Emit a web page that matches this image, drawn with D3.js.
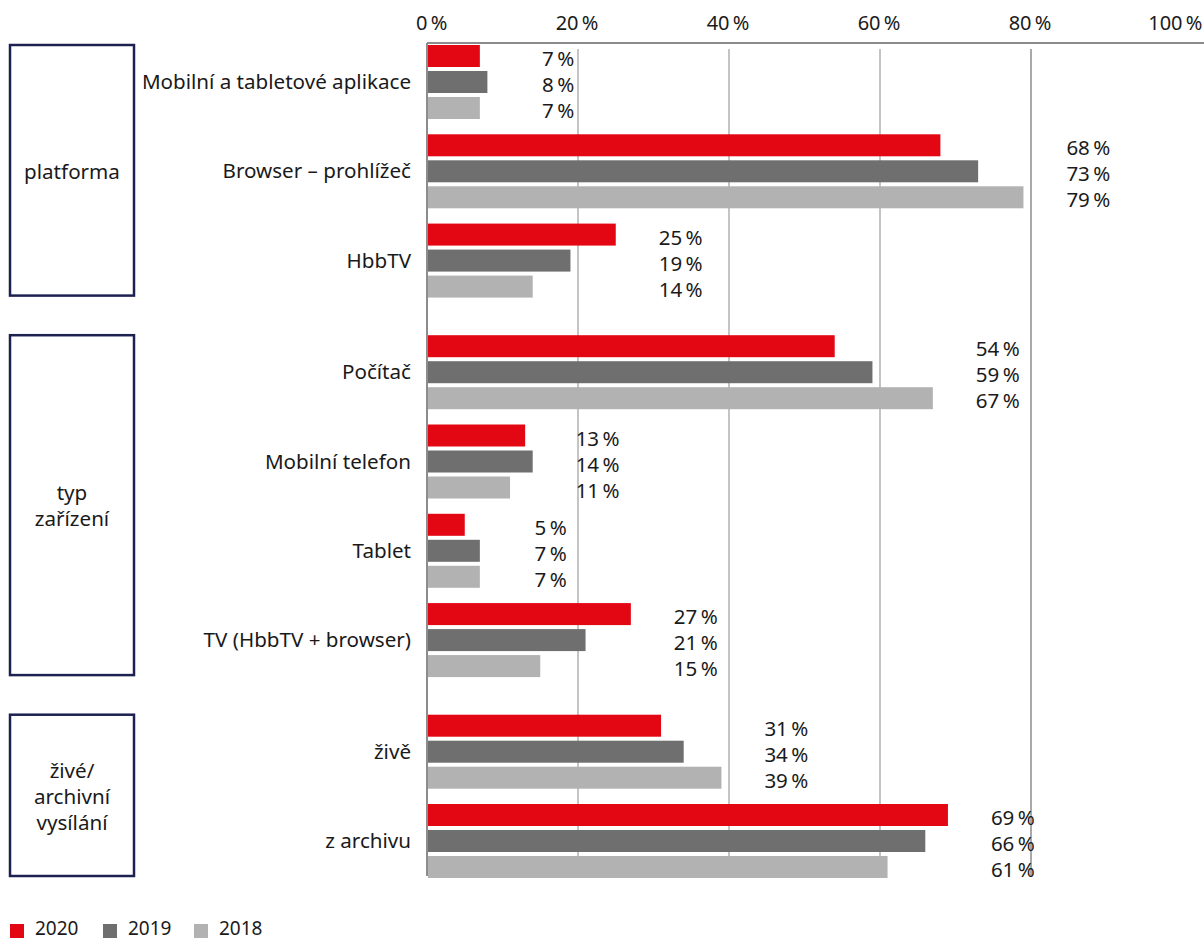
<!DOCTYPE html>
<html><head><meta charset="utf-8">
<script src="https://cdn.jsdelivr.net/npm/d3@7"></script>
<style>
html,body{margin:0;padding:0;background:#fff;}
text{font-family:"Noto Sans","Open Sans",sans-serif;fill:#1a1a1a;}
</style></head>
<body>
<svg id="chart" width="1204" height="940"></svg>
<script>
const categories = ["Mobilní a tabletové aplikace","Browser – prohlížeč","HbbTV","Počítač","Mobilní telefon","Tablet","TV (HbbTV + browser)","živě","z archivu"];
const categorySection = [0,0,0,1,1,1,1,2,2];
const sections = [["platforma"],["typ","zařízení"],["živé/","archivní","vysílání"]];
const years = ["2020","2019","2018"];
const values2020 = [7,68,25,54,13,5,27,31,69];
const values2019 = [8,73,19,59,14,7,21,34,66];
const values2018 = [7,79,14,67,11,7,15,39,61];
const ticks = [0,20,40,60,80,100];
const colors = {"2020":"#e30613","2019":"#6f6f6f","2018":"#b2b2b2"};

const series = [values2020, values2019, values2018];
const svg = d3.select("#chart");
const W = 1204, H = 940;

const x = d3.scaleLinear().domain([0,100]).range([427,1182]);
const sectionGap = 0.25;
const slot = i => i + sectionGap*categorySection[i];
const y = d3.scaleLinear().domain([0, slot(categories.length-1)]).range([45, 804]);
const inner = d3.scaleBand().domain(years).range([0,74]).paddingInner(0.154).paddingOuter(0);
const groupH = 74;

// gridlines
svg.append("g").selectAll("line").data(ticks.filter(t=>t>0 && t<100)).join("line")
  .attr("x1",d=>x(d)).attr("x2",d=>x(d)).attr("y1",49).attr("y2",876)
  .attr("stroke",d=>d===80?"#8c8c8c":"#b0b0b0").attr("stroke-width",1.5);

// top axis
const axis = d3.axisTop(x).tickValues(ticks).tickSize(0).tickFormat(d=>d+"\u2009%");
const ag = svg.append("g").attr("transform","translate(0,43)").call(axis);
ag.select(".domain").remove();
ag.selectAll("text").attr("font-size",20).attr("text-anchor","end").attr("dx",20).attr("dy",-10.5)
  .style("font-family",'"Noto Sans","Open Sans",sans-serif').attr("fill","#1a1a1a");
svg.append("line").attr("x1",x(0)).attr("x2",W).attr("y1",43).attr("y2",43).attr("stroke","#8c8c8c").attr("stroke-width",2);
svg.append("line").attr("x1",x(0)).attr("x2",x(0)).attr("y1",43).attr("y2",876).attr("stroke","#8c8c8c").attr("stroke-width",2);

// bars
const groups = svg.append("g").selectAll("g").data(categories).join("g")
  .attr("transform",(d,i)=>`translate(0,${y(slot(i))})`);
groups.each(function(cat,i){
  const g = d3.select(this);
  const rows = years.map((yr,k)=>({yr, v: series[k][i]}));
  g.selectAll("rect").data(rows).join("rect")
    .attr("x",x(0)+1).attr("y",d=>inner(d.yr)).attr("height",inner.bandwidth())
    .attr("width",d=>x(d.v)-x(0)-1).attr("fill",d=>colors[d.yr]);
  const mx = d3.max(rows,d=>d.v);
  g.selectAll("text.val").data(rows).join("text").attr("class","val")
    .attr("x",x(mx+11.5)).attr("y",d=>inner(d.yr)+inner.bandwidth()/2+3)
    .attr("dy","0.35em").attr("text-anchor","end").attr("font-size",20.5)
    .text(d=>d.v+"\u2009%");
  g.append("text").attr("x",411).attr("y",groupH/2).attr("dy","0.35em")
    .attr("text-anchor","end").attr("font-size",20.6).text(cat);
});

// section boxes
sections.forEach((lines,s)=>{
  const idx = categories.map((c,i)=>i).filter(i=>categorySection[i]===s);
  const top = y(slot(idx[0])), bottom = y(slot(idx[idx.length-1]))+groupH;
  svg.append("rect").attr("x",10).attr("y",top).attr("width",124).attr("height",bottom-top-2)
    .attr("fill","none").attr("stroke","#1c2150").attr("stroke-width",2.5);
  const cy = (top+bottom)/2;
  const lh = 26;
  svg.append("g").selectAll("text").data(lines).join("text")
    .attr("x",72).attr("y",(d,k)=>cy + (k-(lines.length-1)/2)*lh).attr("dy","0.35em")
    .attr("text-anchor","middle").attr("font-size",20.6).text(d=>d);
});

// legend
const lg = svg.append("g").attr("transform","translate(10,928)");
const lx = d3.scaleOrdinal().domain(years).range([0,93,184]);
years.forEach(yr=>{
  lg.append("rect").attr("x",lx(yr)).attr("y",-4).attr("width",14).attr("height",14).attr("fill",colors[yr]);
  lg.append("text").attr("x",lx(yr)+25).attr("y",0).attr("dy","0.35em").attr("font-size",19).text(yr);
});
</script>
</body></html>
